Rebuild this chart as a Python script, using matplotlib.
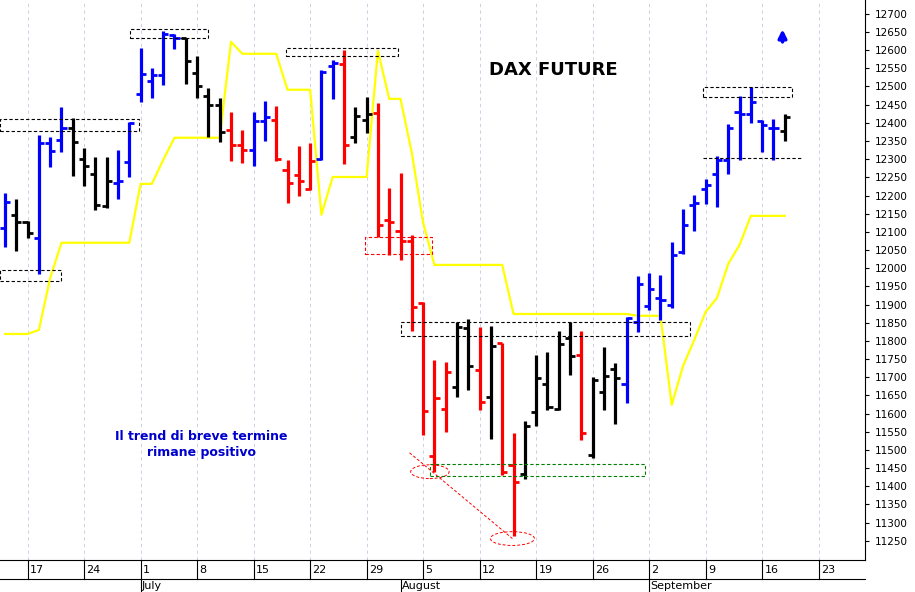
import matplotlib
matplotlib.use("Agg")
import matplotlib.pyplot as plt
import matplotlib.transforms as mtransforms
from matplotlib.patches import Rectangle, Ellipse
import pandas as pd

# DAX future daily bars, 2019-06-13 .. (business days)
opens = [12111, 12147, 12128, 12084, 12345, 12353, 12386, 12300, 12259, 12170,
         12235, 12291, 12480, 12516, 12532, 12642, 12633, 12537, 12474, 12450,
         12381, 12340, 12324, 12404, 12408, 12271, 12257, 12218, 12301, 12556,
         12562, 12361, 12408, 12427, 12133, 12101, 12076, 11904, 11484, 11613,
         11674, 11835, 11720, 11645, 11794, 11459, 11434, 11604, 11682, 11612,
         11809, 11762, 11486, 11658, 11722, 11681, 11852, 11895, 11918, 11899,
         12045, 12173, 12219, 12260, 12298, 12431, 12424, 12405, 12386, 12377]
highs = [12207, 12191, 12130, 12367, 12361, 12444, 12414, 12332, 12307, 12307,
         12324, 12402, 12607, 12551, 12653, 12645, 12633, 12584, 12496, 12468,
         12431, 12381, 12431, 12461, 12445, 12298, 12335, 12345, 12546, 12573,
         12601, 12444, 12470, 12454, 12220, 12263, 12090, 11906, 11748, 11743,
         11852, 11860, 11838, 11840, 11794, 11546, 11580, 11760, 11768, 11826,
         11853, 11826, 11700, 11782, 11739, 11867, 11979, 11986, 11982, 12071,
         12162, 12201, 12246, 12309, 12396, 12475, 12499, 12407, 12410, 12424]
lows = [12059, 12048, 12084, 11984, 12279, 12320, 12254, 12227, 12159, 12165,
        12191, 12252, 12456, 12468, 12505, 12604, 12507, 12468, 12362, 12346,
        12294, 12290, 12280, 12351, 12294, 12180, 12199, 12215, 12298, 12465,
        12287, 12344, 12372, 12085, 12036, 12023, 11826, 11540, 11438, 11548,
        11645, 11665, 11610, 11529, 11431, 11262, 11419, 11567, 11610, 11610,
        11705, 11526, 11477, 11610, 11570, 11628, 11825, 11885, 11858, 11890,
        12040, 12101, 12178, 12169, 12259, 12298, 12400, 12321, 12298, 12349]
closes = [12183, 12128, 12097, 12345, 12323, 12386, 12348, 12280, 12174, 12240,
          12240, 12400, 12535, 12532, 12645, 12633, 12571, 12500, 12450, 12376,
          12340, 12324, 12404, 12417, 12300, 12235, 12239, 12295, 12541, 12564,
          12340, 12419, 12425, 12119, 12128, 12076, 11892, 11607, 11642, 11714,
          11837, 11731, 11633, 11786, 11438, 11413, 11567, 11697, 11617, 11791,
          11757, 11546, 11692, 11704, 11697, 11862, 11956, 11942, 11913, 12036,
          12119, 12180, 12229, 12298, 12386, 12424, 12456, 12395, 12386, 12417]
colors = list("bkkbbbkkkkbbbbbbkkkkrrbbrrrrbbrkkrrrrrrrkkrkrrkkkkkrkkkbbbbbbbbbbbbbbkb")
stop_line = [11819, 11819, 11819, 11830, 11973, 12070, 12070, 12070, 12070, 12070,
             12070, 12070, 12232, 12232, 12298, 12359, 12359, 12359, 12359, 12359,
             12623, 12590, 12590, 12590, 12590, 12491, 12491, 12491, 12147, 12251,
             12251, 12251, 12251, 12598, 12466, 12466, 12317, 12125, 12009, 12009,
             12009, 12009, 12009, 12009, 12009, 11874, 11874, 11874, 11874, 11874,
             11874, 11874, 11874, 11874, 11874, 11874, 11869, 11869, 11869, 11624,
             11731, 11803, 11880, 11918, 12012, 12064, 12144, 12144, 12144, 12144]

cmap = {"b": "#0000ff", "k": "#000000", "r": "#ff0000"}
days = pd.bdate_range("2019-06-13", periods=80)

fig = plt.figure(figsize=(9.15, 5.92), dpi=100)
ax = fig.add_axes([0, 32 / 592, 865 / 915, 560 / 592])
n = len(opens)
for i in range(n):
    c = cmap[colors[i]]
    ax.plot([i, i], [lows[i], highs[i]], color=c, lw=2.3, solid_capstyle="butt")
    ax.plot([i - 0.45, i], [opens[i], opens[i]], color=c, lw=2.0, solid_capstyle="butt")
    ax.plot([i, i + 0.45], [closes[i], closes[i]], color=c, lw=2.0, solid_capstyle="butt")
ax.plot(range(n), stop_line, color="#ffff00", lw=1.6, zorder=1)

ax.set_xlim(-0.44, 76.1)
ax.set_ylim(11197, 12738)
ax.yaxis.tick_right()
ax.set_yticks(range(11250, 12701, 50))
ax.tick_params(axis="y", labelsize=7.5, length=3, pad=4)
ax.set_xticks([])
for s in ["top", "left"]:
    ax.spines[s].set_visible(False)

# weekly grid and labels
trans = mtransforms.blended_transform_factory(ax.transData, ax.transAxes)
for i, d in enumerate(days):
    if d.weekday() == 0 and i < 76:
        ax.axvline(i, color="#c8c8e0", lw=0.6, ls=(0, (4, 4)), zorder=0)
        ax.plot([i, i], [0, -0.034], transform=trans, color="black", lw=0.8, clip_on=False)
        ax.text(i + 0.2, -0.017, str(d.day), transform=trans, fontsize=8,
                family="Liberation Sans Narrow", va="center", ha="left")
for name, start in [("July", "2019-07-01"), ("August", "2019-08-01"), ("September", "2019-09-02")]:
    i = list(days).index(pd.Timestamp(start))
    ax.plot([i, i], [-0.034, -0.06], transform=trans, color="black", lw=0.8, clip_on=False)
    ax.text(i + 0.1, -0.047, name, transform=trans, fontsize=8,
            family="Liberation Sans Narrow", va="center", ha="left")
ax.plot([-0.44, 76.1], [-0.034, -0.034], transform=trans, color="black", lw=0.8, clip_on=False)

# annotation boxes
def box(x0, x1, y0, y1, color="black"):
    ax.add_patch(Rectangle((x0, y0), x1 - x0, y1 - y0, fill=False, ec=color,
                           lw=0.8, ls=(0, (3, 2)), zorder=3))

box(-0.44, 11.9, 12378, 12411)
box(-0.44, 5.0, 11966, 11996)
box(11.1, 18.0, 12634, 12659)
box(24.9, 34.8, 12584, 12606)
box(31.9, 37.8, 12039, 12086, "red")
box(35.0, 60.6, 11814, 11852)
box(37.6, 56.6, 11429, 11462, "green")
box(61.8, 69.6, 12472, 12499)
ax.plot([61.8, 70.4], [12304, 12304], color="black", lw=0.8, ls=(0, (3, 2)))
ax.add_patch(Ellipse((37.6, 11440), 3.4, 38, fill=False, ec="red", lw=0.7, ls=(0, (3, 2))))
ax.add_patch(Ellipse((44.9, 11256), 3.9, 38, fill=False, ec="red", lw=0.7, ls=(0, (3, 2))))
ax.plot([35.8, 44.9], [11492, 11256], color="red", lw=0.7, ls=(0, (3, 2)))
ax.annotate("", xy=(68.8, 12665), xytext=(68.8, 12615),
            arrowprops=dict(arrowstyle="-|>", color="#0000ff", lw=2.5, mutation_scale=12))

ax.text(48.5, 12545, "DAX FUTURE", fontsize=13, fontweight="bold", ha="center", va="center")
ax.text(17.4, 11515, "Il trend di breve termine\nrimane positivo", fontsize=9,
        fontweight="bold", color="#0000cc", ha="center", va="center", linespacing=1.3)

fig.savefig("out.png", dpi=100)
